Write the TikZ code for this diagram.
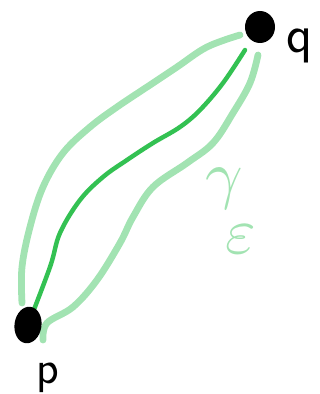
\documentclass[tikz,border=0pt]{standalone}
\usetikzlibrary{shapes.geometric, backgrounds}
\definecolor{pathgreen}{HTML}{33C152}
\definecolor{tubegreen}{HTML}{A2E3B2}

\begin{document}
\begin{tikzpicture}[
    x=0.03cm, y=-0.03cm,
    dot/.style={ellipse, fill=black, inner sep=0pt},
    geo/.style={pathgreen, line width=3.8pt, line cap=round, line join=round},
    tube/.style={tubegreen, line width=5.8pt, line cap=round, line join=round},
    ptlabel/.style={font=\fontsize{40}{40}\selectfont\sffamily},
]
\useasboundingbox (0,0) rectangle (320,394);

% end points
\node[dot, minimum width=0.81cm, minimum height=1.1cm, rotate=-8] (p) at (28,325) {};
\node[dot, minimum width=0.9cm, minimum height=0.96cm] (q) at (260,27) {};
\node[ptlabel] (plabel) at (48,378) {p};
\node[ptlabel, font=\fontsize{46}{46}\selectfont\sffamily] (qlabel) at (300,46) {q};

% curve ends near the dots
\coordinate (qend) at (245,50);
\coordinate (upstart) at (22,303);
\coordinate (upend) at (240,35);
\coordinate (lowstart) at (43,340);
\coordinate (lowend) at (258,55);

\begin{scope}[on background layer]
    % the tube round the curve
    \draw[tube] plot[smooth, tension=0.6] coordinates {(upstart) (22,267) (30,227) (43,187) (63,153) (90,127) (117,107) (147,87) (177,67) (207,47) (upend)};
    \draw[tube] plot[smooth, tension=0.6] coordinates {(lowstart) (47,323) (73,307) (97,280) (120,243) (133,217) (153,187) (187,163) (213,143) (233,113) (250,83) (lowend)};
    % the curve itself
    \draw[geo] plot[smooth, tension=0.6] coordinates {(p.center) (50,267) (60,233) (80,200) (103,177) (127,160) (153,143) (180,127) (200,110) (223,83) (qend)};
\end{scope}

\node[text=tubegreen, inner sep=0pt] (gammaeps) at (231,211) {\scalebox{5.6}{$\gamma\kern-2.6pt\raisebox{-8.8pt}{$\varepsilon$}$}};

\end{tikzpicture}
\end{document}
